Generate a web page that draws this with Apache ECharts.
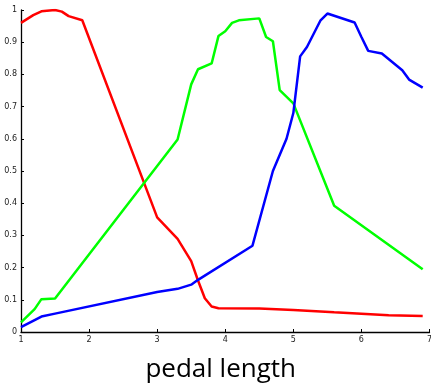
<!DOCTYPE html>
<html>
<head>
    <meta charset="utf-8">
    <title>pedal length</title>
    <script src="https://cdn.jsdelivr.net/npm/echarts@6/dist/echarts.min.js"></script>
    <style>
        html, body, #main { width: 431px; height: 385px; margin: 0; padding: 0; background: #fff; }
    </style>
</head>
<body>
<div id="main"></div>
<script type="text/javascript">
    var xTicks = ['1', '2', '3', '4', '5', '6', '7'];

    var redX = [1, 1.18, 1.3, 1.5, 1.6, 1.7, 1.9, 3.0, 3.3, 3.5, 3.6, 3.7, 3.8, 3.9, 4.5, 5.0, 5.6, 6.4, 6.9];
    var redY = [0.96, 0.984, 0.996, 1.0, 0.995, 0.981, 0.968, 0.356, 0.289, 0.22, 0.16, 0.105, 0.079, 0.074, 0.073, 0.068, 0.061, 0.052, 0.05];

    var greenX = [1, 1.2, 1.3, 1.5, 3.3, 3.5, 3.6, 3.8, 3.9, 4.0, 4.1, 4.2, 4.5, 4.6, 4.7, 4.8, 5.0, 5.6, 6.9];
    var greenY = [0.03, 0.071, 0.102, 0.104, 0.598, 0.769, 0.816, 0.834, 0.919, 0.934, 0.96, 0.968, 0.974, 0.916, 0.903, 0.751, 0.71, 0.392, 0.195];

    var blueX = [1, 1.3, 1.5, 3.0, 3.3, 3.5, 3.6, 4.4, 4.7, 4.9, 5.0, 5.1, 5.2, 5.4, 5.5, 5.9, 6.0, 6.1, 6.3, 6.6, 6.7, 6.9];
    var blueY = [0.015, 0.048, 0.057, 0.124, 0.134, 0.147, 0.162, 0.268, 0.5, 0.6, 0.68, 0.856, 0.885, 0.968, 0.989, 0.961, 0.916, 0.873, 0.865, 0.813, 0.784, 0.759];

    function pairs(xs, ys) {
        return xs.map(function (x, i) { return [x, ys[i]]; });
    }

    function line(name, color, xs, ys) {
        return {
            name: name,
            type: 'line',
            data: pairs(xs, ys),
            showSymbol: false,
            symbol: 'none',
            lineStyle: { color: color, width: 2.5 },
            itemStyle: { color: color },
            animation: false
        };
    }

    var myChart = echarts.init(document.getElementById('main'));
    var axisLabelStyle = { fontSize: 8, color: '#222', fontFamily: 'DejaVu Sans' };

    myChart.setOption({
        backgroundColor: '#fff',
        grid: { left: 21, right: 1.5, top: 10, bottom: 53, outerBoundsMode: 'none', containLabel: false },
        xAxis: {
            type: 'value',
            min: 1, max: 7, interval: 1,
            name: 'pedal length',
            nameLocation: 'middle',
            nameGap: 25,
            nameTextStyle: { fontSize: 26, color: '#000', fontFamily: 'Open Sans', padding: [0, 9, 0, 0] },
            axisLine: { lineStyle: { color: '#000', width: 1.3 } },
            axisTick: { inside: true, length: 3, lineStyle: { color: '#000' } },
            axisLabel: Object.assign({ margin: 4, formatter: function (v) { return xTicks[v - 1]; } }, axisLabelStyle),
            splitLine: { show: false }
        },
        yAxis: {
            type: 'value',
            min: 0, max: 1, interval: 0.1,
            axisLine: { show: true, lineStyle: { color: '#000', width: 1.3 } },
            axisTick: { show: true, inside: true, length: 3, lineStyle: { color: '#000' } },
            axisLabel: Object.assign({ margin: 4, formatter: function (v) { return String(Math.round(v * 10) / 10); } }, axisLabelStyle),
            splitLine: { show: false }
        },
        series: [
            line('red', '#ff0000', redX, redY),
            line('green', '#00ff00', greenX, greenY),
            line('blue', '#0000ff', blueX, blueY)
        ]
    });
</script>
</body>
</html>
